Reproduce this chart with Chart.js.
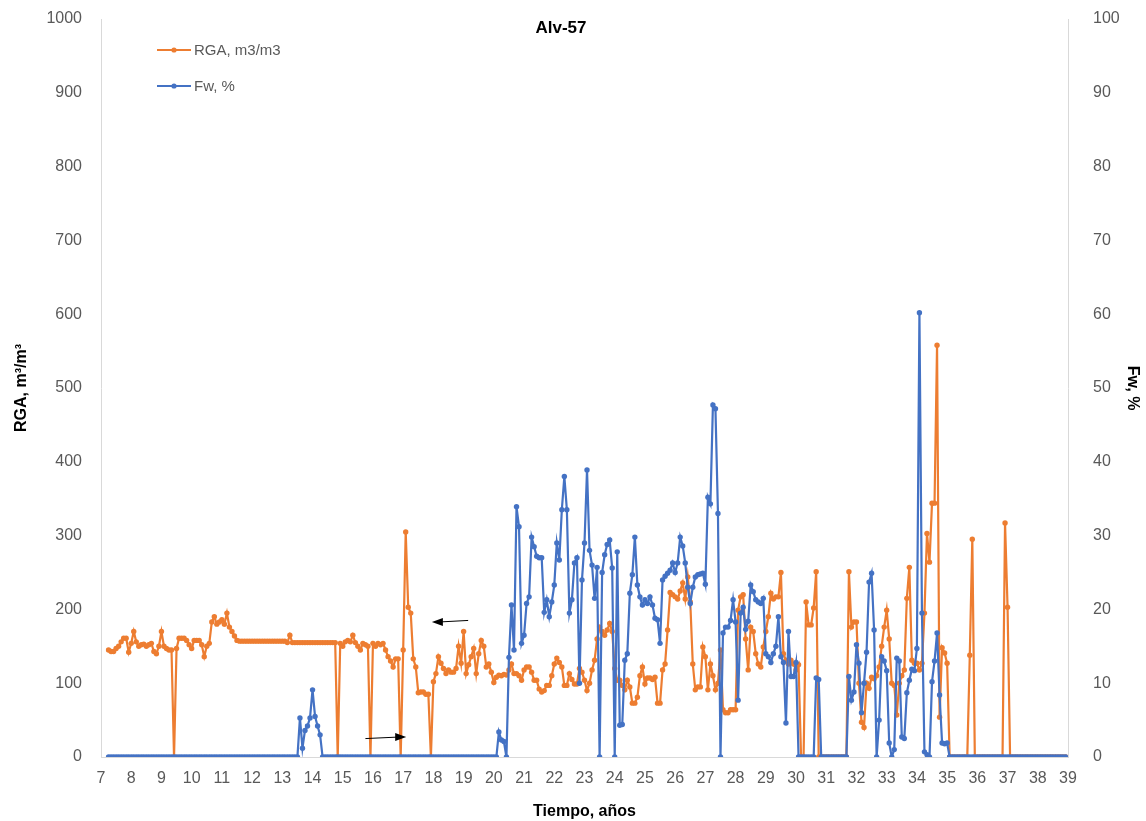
<!DOCTYPE html>
<html>
<head>
<meta charset="utf-8">
<title>Alv-57</title>
<script src="https://cdn.jsdelivr.net/npm/chart.js@4.4.1/dist/chart.umd.min.js"></script>
<style>
  html, body { margin: 0; padding: 0; background: #fff; }
  canvas { display: block; }
</style>
</head>
<body>
<canvas id="chart" width="1146" height="821"></canvas>
<script>
// ------------------------------------------------------------
// Datos (lecturas mensuales, desde 7.25 años)
// ------------------------------------------------------------
const chartTitle = "Alv-57";
const startYear = 7.25;      // primer registro
const stepYear = 1 / 12;     // un registro por mes

// RGA, m3/m3 (eje izquierdo)
const rga = [
  145,143,143,147,150,156,161,161,142,154,
  170,156,150,152,153,150,152,154,143,140,
  150,170,150,147,145,145,0,147,161,161,
  161,158,152,147,158,158,158,152,136,150,
  154,183,190,180,183,186,180,195,176,170,
  164,158,157,157,157,157,157,157,157,157,
  157,157,157,157,157,157,157,157,157,157,
  157,155,165,155,155,155,155,155,155,155,
  155,155,155,155,155,155,155,155,155,155,
  155,0,154,150,156,158,156,165,155,150,
  145,154,152,150,0,154,150,154,152,154,
  145,136,130,122,133,133,0,145,305,203,
  195,133,122,87,88,88,85,85,0,102,
  113,136,127,120,113,118,115,115,120,150,
  127,170,113,125,136,147,113,140,158,150,
  122,126,115,101,108,111,110,112,111,118,
  126,113,113,110,104,118,122,122,115,104,
  104,92,88,90,97,97,110,126,134,128,
  122,97,97,113,105,99,99,120,115,104,
  90,100,118,131,160,176,170,165,172,181,
  170,120,104,104,97,91,104,95,73,73,
  81,110,122,99,107,107,105,108,73,73,
  118,126,172,223,220,217,214,225,236,214,
  244,210,126,91,95,95,149,136,91,126,
  110,91,100,145,64,60,60,64,64,64,
  199,217,220,160,118,176,170,140,126,122,
  149,170,190,222,214,217,217,250,140,131,
  126,131,126,118,125,0,0,210,179,179,
  202,251,0,0,0,0,0,0,0,0,
  0,0,0,0,251,176,183,183,100,47,
  40,100,93,108,106,110,122,150,176,199,
  160,100,97,57,100,110,118,215,257,131,
  127,127,118,127,195,303,264,344,344,558,
  54,148,141,127,0,0,0,0,0,0,
  0,0,138,295,0,0,0,0,0,0,
  0,0,0,0,0,0,317,203,0,0,
  0,0,0,0,0,0,0,0,0,0,
  0,0,0,0,0,0,0,0,0,0,
  0
];

// Fw, % (eje derecho)
const fw = [
  0,0,0,0,0,0,0,0,0,0,
  0,0,0,0,0,0,0,0,0,0,
  0,0,0,0,0,0,0,0,0,0,
  0,0,0,0,0,0,0,0,0,0,
  0,0,0,0,0,0,0,0,0,0,
  0,0,0,0,0,0,0,0,0,0,
  0,0,0,0,0,0,0,0,0,0,
  0,0,0,0,0,0,5.3,1.2,3.6,4.2,
  5.3,9.1,5.5,4.2,3.0,0,0,0,0,0,
  0,0,0,0,0,0,0,0,0,0,
  0,0,0,0,0,0,0,0,0,0,
  0,0,0,0,0,0,0,0,0,0,
  0,0,0,0,0,0,0,0,0,0,
  0,0,0,0,0,0,0,0,0,0,
  0,0,0,0,0,0,0,0,0,0,
  0,0,0,0,0,3.4,2.3,2.1,0,13.5,
  20.6,14.5,33.9,31.2,15.4,16.5,20.8,21.7,29.8,28.5,
  27.2,27.0,27.0,19.6,21.3,19.0,21.0,23.3,29.0,26.7,
  33.5,38.0,33.5,19.5,21.3,26.3,27.0,10.0,24.0,29.0,
  38.9,28.0,26.0,21.5,25.7,0,25.0,27.4,28.8,29.4,
  25.6,0,27.8,4.3,4.4,13.1,14.0,22.2,24.7,29.8,
  23.3,21.7,20.6,21.3,20.8,21.7,20.6,18.8,18.6,15.4,
  24.0,24.5,24.9,25.3,26.3,25.0,26.3,29.8,28.6,26.3,
  23.0,20.8,23.0,24.4,24.7,24.8,24.9,23.4,35.2,34.3,
  47.7,47.2,33.0,0,16.8,17.6,17.6,18.5,21.3,18.3,
  7.7,19.5,20.3,17.3,18.4,23.3,22.4,21.3,21.0,20.8,
  21.5,14.0,13.6,12.8,14.0,15.0,19.0,13.6,12.8,4.6,
  17.0,10.9,10.9,12.8,0,0,0,0,0,0,
  0,10.7,10.5,0,0,0,0,0,0,0,
  0,0,0,0,10.9,7.7,8.8,15.2,12.7,6.0,
  10.0,14.2,23.7,24.9,17.2,0,5.0,13.6,13.0,11.7,
  1.9,0,1.0,13.4,13.0,2.7,2.5,8.7,10.4,11.9,
  11.7,14.7,60.2,19.5,0.7,0.3,0,10.2,13.0,16.8,
  8.4,1.9,1.8,1.9,0,0,0,0,0,0,
  0,0,0,0,0,0,0,0,0,0,
  0,0,0,0,0,0,0,0,0,0,
  0,0,0,0,0,0,0,0,0,0,
  0,0,0,0,0,0,0,0,0,0,
  0
];

// tiempo (años) de cada registro mensual
const years = rga.map((_, i) => startYear + i * stepYear);

// ejes
const xTicks  = { min: 7, max: 39, step: 1 };
const yLeft   = { min: 0, max: 1000, step: 100 };
const yRight  = { min: 0, max: 100, step: 10 };

// flechas de anotación: [xDesde, xHasta, RGA]
const arrows = [
  [19.15, 17.95, 183],
  [15.75, 17.1, 27]
];

const ORANGE = "#ED7D31";
const BLUE = "#4472C4";
const GREY = "#595959";

Chart.defaults.font.family = "'Liberation Sans', Arial, sans-serif";

const toPoints = vals => vals.map((v, i) => ({ x: years[i], y: v }));

// ------------------------------------------------------------
// Plugin: título, leyenda y flechas
// ------------------------------------------------------------
const overlay = {
  id: "overlay",
  afterDraw(chart) {
    const { ctx, scales } = chart;
    ctx.save();

    // título
    ctx.font = "bold 17px 'Liberation Sans', Arial, sans-serif";
    ctx.fillStyle = "#000";
    ctx.textAlign = "center";
    ctx.textBaseline = "middle";
    ctx.fillText(chartTitle, 561, 28);

    // leyenda
    const items = chart.data.datasets.slice().sort((a, b) => b.order - a.order);
    items.forEach((ds, k) => {
      const ly = 50 + k * 36;
      ctx.strokeStyle = ds.borderColor;
      ctx.lineWidth = 2;
      ctx.beginPath();
      ctx.moveTo(157, ly);
      ctx.lineTo(191, ly);
      ctx.stroke();
      ctx.fillStyle = ds.borderColor;
      ctx.beginPath();
      ctx.arc(174, ly, 2.6, 0, Math.PI * 2);
      ctx.fill();
      ctx.font = "15px 'Liberation Sans', Arial, sans-serif";
      ctx.fillStyle = GREY;
      ctx.textAlign = "left";
      ctx.fillText(ds.label, 194, ly + 1);
    });

    // flechas
    ctx.strokeStyle = "#000";
    ctx.fillStyle = "#000";
    ctx.lineWidth = 1;
    arrows.forEach(([x0, x1, v]) => {
      const px0 = scales.x.getPixelForValue(x0);
      const px1 = scales.x.getPixelForValue(x1);
      const py = scales.y.getPixelForValue(v);
      const dir = Math.sign(px1 - px0);
      ctx.beginPath();
      ctx.moveTo(px0, py + dir * 1.5);
      ctx.lineTo(px1 - dir * 8, py);
      ctx.stroke();
      ctx.beginPath();
      ctx.moveTo(px1, py);
      ctx.lineTo(px1 - dir * 11, py - 4);
      ctx.lineTo(px1 - dir * 11, py + 4);
      ctx.closePath();
      ctx.fill();
    });

    ctx.restore();
  }
};

const tickFont = { size: 16 };
const plain = v => String(v);
// ancho fijo de los ejes verticales, sin relleno extra arriba/abajo
const fixWidth = w => s => { s.width = w; s.paddingTop = 0; s.paddingBottom = 0; };

new Chart(document.getElementById("chart"), {
  type: "line",
  data: {
    datasets: [
      {
        label: "Fw, %",
        data: toPoints(fw),
        yAxisID: "y1",
        borderColor: BLUE,
        backgroundColor: BLUE,
        pointBackgroundColor: BLUE,
        borderWidth: 2.2,
        pointRadius: 2.7,
        pointBorderWidth: 0,
        tension: 0,
        order: 0
      },
      {
        label: "RGA, m3/m3",
        data: toPoints(rga),
        yAxisID: "y",
        borderColor: ORANGE,
        backgroundColor: ORANGE,
        pointBackgroundColor: ORANGE,
        borderWidth: 2.2,
        pointRadius: 2.7,
        pointBorderWidth: 0,
        tension: 0,
        order: 1
      }
    ]
  },
  options: {
    responsive: false,
    animation: false,
    layout: { padding: { top: 19, left: 0, right: 0, bottom: 0 } },
    plugins: {
      legend: { display: false },
      tooltip: { enabled: false },
      title: { display: false }
    },
    scales: {
      x: {
        type: "linear",
        min: xTicks.min,
        max: xTicks.max,
        grid: { display: false },
        border: { display: true, color: "#D9D9D9", width: 1 },
        ticks: {
          stepSize: xTicks.step,
          autoSkip: false,
          maxRotation: 0,
          color: GREY,
          font: tickFont,
          padding: 4,
          callback: plain
        },
        title: {
          display: true,
          text: "Tiempo, años",
          color: "#000",
          font: { size: 16, weight: "bold" },
          padding: { top: 6, bottom: 0 }
        },
        afterFit: s => { s.height = 64; s.paddingLeft = 0; s.paddingRight = 0; }
      },
      y: {
        position: "left",
        min: yLeft.min,
        max: yLeft.max,
        grid: { display: false },
        border: { display: true, color: "#D9D9D9", width: 1 },
        ticks: { stepSize: yLeft.step, color: GREY, font: tickFont, padding: 11, callback: plain },
        title: {
          display: true,
          text: "RGA, m³/m³",
          color: "#000",
          font: { size: 16, weight: "bold" },
          padding: { top: 12, bottom: 0 }
        },
        afterFit: fixWidth(101)
      },
      y1: {
        position: "right",
        min: yRight.min,
        max: yRight.max,
        grid: { display: false },
        border: { display: true, color: "#D9D9D9", width: 1 },
        ticks: { stepSize: yRight.step, color: GREY, font: tickFont, padding: 17, callback: plain },
        title: {
          display: true,
          text: "Fw, %",
          color: "#000",
          font: { size: 16, weight: "bold" },
          padding: { top: 4, bottom: 0 }
        },
        afterFit: fixWidth(78)
      }
    }
  },
  plugins: [overlay]
});
</script>
</body>
</html>
